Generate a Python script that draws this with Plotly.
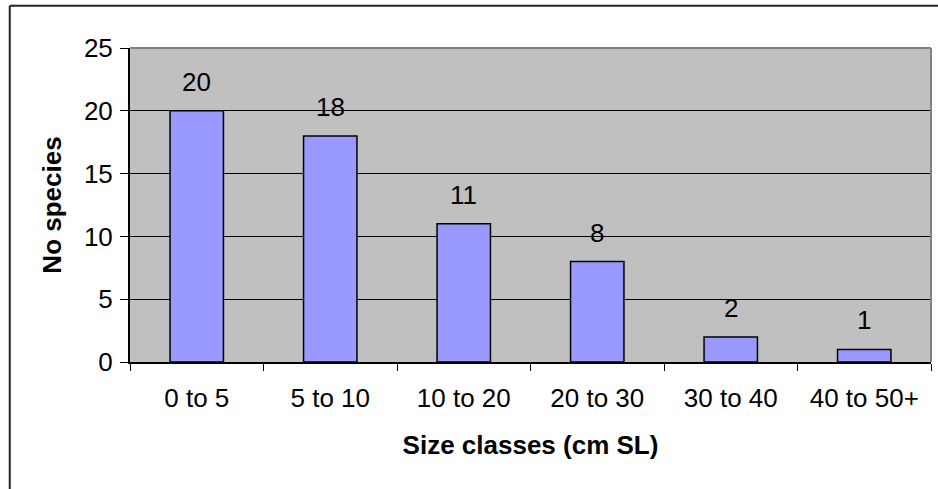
import plotly.graph_objects as go

# Number of species per size class
size_classes = ["0 to 5", "5 to 10", "10 to 20", "20 to 30", "30 to 40", "40 to 50+"]
species_counts = [20, 18, 11, 8, 2, 1]
y_ticks = [0, 5, 10, 15, 20, 25]

FONT = "Arial, 'Liberation Sans', sans-serif"

W, H = 938, 489
ML, MR, MT, MB = 130, 7, 48, 127
PW, PH = W - ML - MR, H - MT - MB


def px_to_paper_x(px):
    return (px - ML) / PW


def px_to_paper_y(py):
    return (H - MB - py) / PH


fig = go.Figure()
fig.add_trace(go.Bar(
    x=size_classes,
    y=species_counts,
    marker=dict(color="#9999FF", line=dict(color="black", width=1.5)),
    width=0.4,
    showlegend=False,
    hoverinfo="x+y",
))

# Value labels above each bar
for cat, val in zip(size_classes, species_counts):
    fig.add_annotation(
        x=cat, y=val, text=str(val), showarrow=False,
        yanchor="middle", yshift=29,
        font=dict(family=FONT, size=26, color="black"),
    )

shapes = [
    # grey frame on top and right of the plot area
    dict(type="line", xref="paper", yref="paper", x0=0, x1=1, y0=1, y1=1,
         line=dict(color="#808080", width=2)),
    dict(type="line", xref="paper", yref="paper", x0=1, x1=1, y0=0, y1=1,
         line=dict(color="#808080", width=2)),
    # outer chart border (left and top edges)
    dict(type="line", xref="paper", yref="paper",
         x0=px_to_paper_x(9.75), x1=px_to_paper_x(9.75),
         y0=px_to_paper_y(5.75), y1=px_to_paper_y(H + 20),
         line=dict(color="#222222", width=2)),
    dict(type="line", xref="paper", yref="paper",
         x0=px_to_paper_x(9.75), x1=px_to_paper_x(W + 20),
         y0=px_to_paper_y(5.75), y1=px_to_paper_y(5.75),
         line=dict(color="#222222", width=2)),
]

fig.update_layout(
    width=W, height=H,
    margin=dict(l=ML, r=MR, t=MT, b=MB, pad=0),
    paper_bgcolor="white",
    plot_bgcolor="#C0C0C0",
    font=dict(family=FONT, size=26, color="black"),
    shapes=shapes,
    bargap=0.6,
)

fig.update_xaxes(
    type="category",
    showline=True, linecolor="black", linewidth=2,
    ticks="outside", tickson="boundaries", ticklen=7, tickcolor="black", tickwidth=1,
    showgrid=False,
    tickfont=dict(family=FONT, size=26, color="black"),
    ticklabelstandoff=12,
    title=dict(text="<b>Size classes (cm SL)</b>", standoff=24,
               font=dict(family=FONT, size=26, color="black")),
)

fig.update_yaxes(
    range=[0, 25], tickvals=y_ticks,
    showline=True, linecolor="black", linewidth=2,
    ticks="outside", ticklen=8, tickcolor="black", tickwidth=1,
    showgrid=True, gridcolor="black", gridwidth=1,
    zeroline=False,
    tickfont=dict(family=FONT, size=26, color="black"),
    ticklabelstandoff=2,
    title=dict(text="<b>No species</b>", standoff=15,
               font=dict(family=FONT, size=26, color="black")),
)

fig.write_html("out.html")
